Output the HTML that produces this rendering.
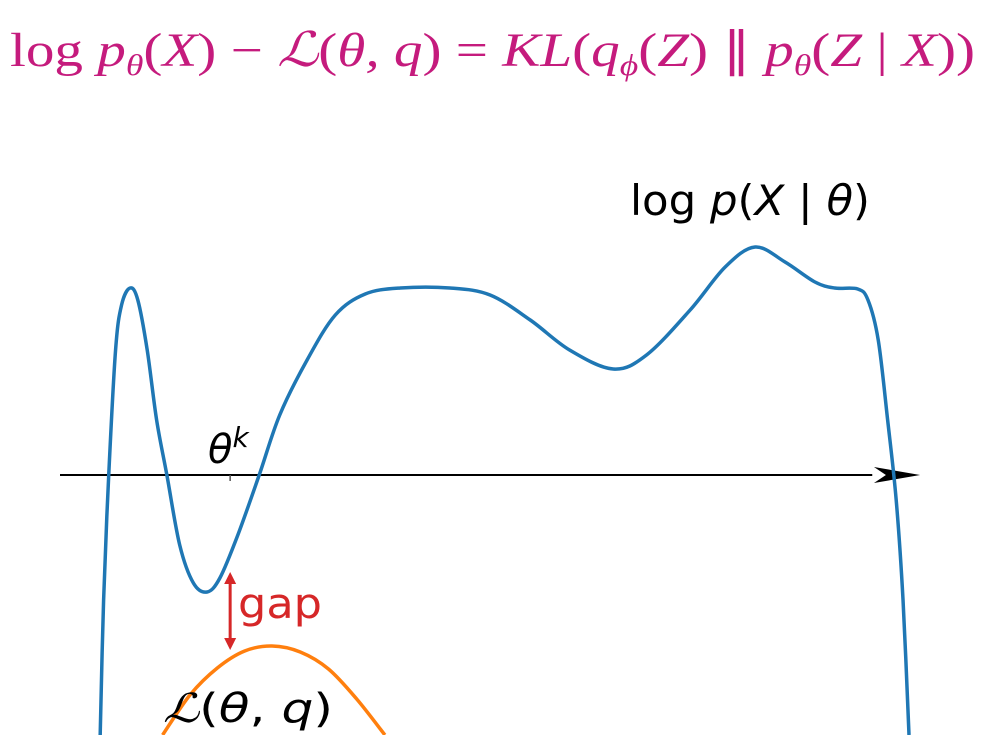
<!DOCTYPE html>
<html><head><meta charset="utf-8"><style>
html,body{margin:0;padding:0;background:#fff;}
svg{display:block;}
</style></head><body>
<svg id="chart" width="989" height="755" viewBox="0 0 989 755" xmlns="http://www.w3.org/2000/svg">
<defs><clipPath id="clip"><rect x="0" y="0" width="989" height="735"/></clipPath></defs>
<text x="10" y="66" textLength="965" lengthAdjust="spacingAndGlyphs" font-family="Liberation Serif, serif" font-size="48" fill="#c51b7d"><tspan>log</tspan><tspan font-style="italic"> p</tspan><tspan font-style="italic" font-size="30" dy="9">θ</tspan><tspan dy="-9">(</tspan><tspan font-style="italic">X</tspan><tspan>) − </tspan><tspan font-style="italic">ℒ</tspan><tspan>(</tspan><tspan font-style="italic">θ, q</tspan><tspan>) = </tspan><tspan font-style="italic">KL</tspan><tspan>(</tspan><tspan font-style="italic">q</tspan><tspan font-style="italic" font-size="30" dy="9">ϕ</tspan><tspan dy="-9">(</tspan><tspan font-style="italic">Z</tspan><tspan>) ∥ </tspan><tspan font-style="italic">p</tspan><tspan font-style="italic" font-size="30" dy="9">θ</tspan><tspan dy="-9">(</tspan><tspan font-style="italic">Z</tspan><tspan> | </tspan><tspan font-style="italic">X</tspan><tspan>))</tspan></text>
<g id="axis"></g>
<g id="series" clip-path="url(#clip)"></g>
<g id="labels"></g>
</svg>
<script>
const blueX = [4.7,5.1,5.7,6.5,7.2,8.2,9.1,10.2,11.3,12.5,14.0,15.6,17.2,18.7,20.8,23.3,25.7,28.9,32.2,35.7,39.8,45.6,50.3,55.0,59.6,64.7,68.6,73.7,77.8,81.3,84.8,88.3,90.6,93.3,94.5,95.7,96.8,97.8,98.6,99.3];
const blueY = [-260,-125,0,125,170,187,175,125,55,0,-70,-108,-117,-103,-60,0,60,115,160,181,187,187,180,155,125,106,120,165,208,228,213,193,187,186,175,135,55,-25,-125,-260];
const orangeX = [12.0,15.2,18.4,21.6,24.8,28.1,31.4,34.7,38.0];
const orangeY = [-260,-220,-193,-176,-171,-177,-194,-224,-260];
const thetaK = 19.9;
const gapTop = -97, gapBottom = -175;

const sx = v => 60 + v * 8.55;
const sy = v => 475 - v;
const NS = "http://www.w3.org/2000/svg";

function smoothPath(xs, ys) {
  const p = xs.map((x, i) => [sx(x), sy(ys[i])]);
  let d = `M${p[0][0]},${p[0][1]}`;
  for (let i = 0; i < p.length - 1; i++) {
    const p0 = p[i - 1] || p[i], p1 = p[i], p2 = p[i + 1], p3 = p[i + 2] || p2;
    const c1 = [p1[0] + (p2[0] - p0[0]) / 6, p1[1] + (p2[1] - p0[1]) / 6];
    const c2 = [p2[0] - (p3[0] - p1[0]) / 6, p2[1] - (p3[1] - p1[1]) / 6];
    d += ` C${c1[0]},${c1[1]} ${c2[0]},${c2[1]} ${p2[0]},${p2[1]}`;
  }
  return d;
}
const series = document.getElementById('series');
const blue = document.createElementNS(NS, 'path');
blue.setAttribute('d', smoothPath(blueX, blueY));
blue.setAttribute('fill', 'none'); blue.setAttribute('stroke', '#1f77b4'); blue.setAttribute('stroke-width', '3.5');


const orange = document.createElementNS(NS, 'path');
orange.setAttribute('d', smoothPath(orangeX, orangeY));
orange.setAttribute('fill', 'none'); orange.setAttribute('stroke', '#ff7f0e'); orange.setAttribute('stroke-width', '3.5');



const axis = document.getElementById('axis');
axis.innerHTML = `<line x1="${sx(0)}" y1="${sy(0)}" x2="${sx(95)}" y2="${sy(0)}" stroke="#000" stroke-width="2"/>
<path d="M${sx(100.6)},${sy(0)} L${sx(95.2)},${sy(8)} L${sx(96.6)},${sy(0)} L${sx(95.2)},${sy(-8)} Z" fill="#000"/>
<line x1="${sx(thetaK)}" y1="${sy(0)}" x2="${sx(thetaK)}" y2="${sy(-6)}" stroke="#555" stroke-width="1.5"/>`;
series.appendChild(orange);
series.appendChild(blue);

const labels = document.getElementById('labels');
labels.innerHTML = `
<g>
<line x1="${sx(thetaK)}" y1="${sy(gapTop)+8}" x2="${sx(thetaK)}" y2="${sy(gapBottom)-8}" stroke="#d62728" stroke-width="3"/>
<path d="M${sx(thetaK)},${sy(gapTop)} l-6,12 l12,0 Z" fill="#d62728"/>
<path d="M${sx(thetaK)},${sy(gapBottom)} l-6,-12 l12,0 Z" fill="#d62728"/></g>
<text x="238" y="618" textLength="84" lengthAdjust="spacingAndGlyphs" font-family="DejaVu Sans, sans-serif" font-size="42" fill="#d62728">gap</text>
<text x="208" y="463" font-family="DejaVu Sans, sans-serif" font-size="40" font-style="italic" fill="#000">θ<tspan font-size="28" dy="-16">k</tspan></text>
<text x="630" y="215" textLength="240" lengthAdjust="spacingAndGlyphs" font-family="DejaVu Sans, sans-serif" font-size="42" fill="#000">log <tspan font-style="italic">p</tspan>(<tspan font-style="italic">X</tspan> | <tspan font-style="italic">θ</tspan>)</text>
<text x="163" y="722" textLength="170" lengthAdjust="spacingAndGlyphs" font-family="DejaVu Serif, serif" font-size="40" fill="#000"><tspan font-style="italic">ℒ</tspan><tspan font-family="DejaVu Sans, sans-serif">(<tspan font-style="italic">θ</tspan>, <tspan font-style="italic">q</tspan>)</tspan></text>`;
</script>
</body></html>
